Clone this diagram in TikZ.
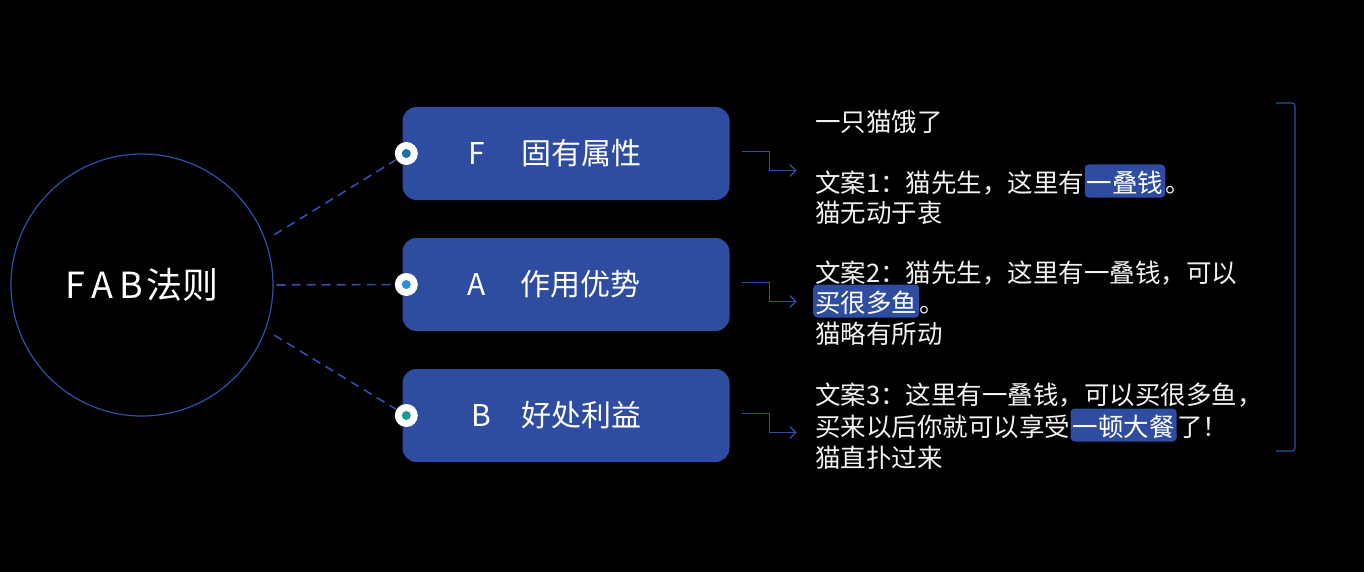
\documentclass[tikz,border=0pt]{standalone}
\usepackage{fontspec}
\setmainfont{Noto Sans CJK SC}
\usetikzlibrary{arrows.meta}
\definecolor{boxblue}{HTML}{2E4CA0}
\definecolor{lineblue}{HTML}{2F4FA8}
\definecolor{dotF}{HTML}{1F6FA8}
\definecolor{dotA}{HTML}{2A90D4}
\definecolor{dotB}{HTML}{1A9C96}
\definecolor{txtw}{HTML}{F2F2F2}
\begin{document}
\begin{tikzpicture}[x=1pt,y=-1pt,
  fbox/.style={rounded corners=14pt,fill=boxblue,minimum width=327pt,minimum height=93pt,inner sep=0pt},
  dot/.style={circle,fill=white,minimum size=23pt,inner sep=0pt},
  innerdot/.style={circle,minimum size=9pt,inner sep=0pt},
  boxtxt/.style={text=white,font=\fontsize{30}{34}\selectfont,inner sep=0pt},
  dashline/.style={draw=lineblue,line width=1.6pt,dash pattern=on 9pt off 6pt},
  elbow/.style={draw=lineblue,line width=1.3pt,-{Straight Barb[length=6pt,width=12pt]}},
  txt/.style={text=txtw,font=\fontsize{25.5}{30}\selectfont,inner sep=0pt,anchor=base west},
  hl/.style={txt,fill=boxblue,rounded corners=4pt,inner xsep=2pt,inner ysep=4pt,text height=24pt,text depth=1pt,text=white}
]
\useasboundingbox (0,0) rectangle (1364,572);
\fill[black] (0,0) rectangle (1364,572);

% central circle
\node[circle,draw=lineblue,line width=1.2pt,minimum size=262pt,inner sep=0pt,text=white,
      font=\fontsize{36}{40}\selectfont] (fab) at (142,285) {F\kern6pt A\kern6pt B\kern3pt 法则};

% boxes
\node[fbox] (fb) at (566,153.5) {};
\node[fbox] (ab) at (566,284.5) {};
\node[fbox] (bb) at (566,415.5) {};

\node[boxtxt] (fl) at ([xshift=-89]fb.center) {F};
\node[boxtxt] (ft) at ([xshift=15]fb.center) {固有属性};
\node[boxtxt] (al) at ([xshift=-89]ab.center) {A};
\node[boxtxt] (at) at ([xshift=14]ab.center) {作用优势};
\node[boxtxt] (bl) at ([xshift=-85]bb.center) {B};
\node[boxtxt] (bt) at ([xshift=15]bb.center) {好处利益};

% dots
\node[dot] (dF) at ([xshift=4]fb.west) {};
\node[innerdot,fill=dotF] (dFi) at (dF) {};
\node[dot] (dA) at ([xshift=4]ab.west) {};
\node[innerdot,fill=dotA] (dAi) at (dA) {};
\node[dot] (dB) at ([xshift=4]bb.west) {};
\node[innerdot,fill=dotB] (dBi) at (dB) {};

% dashed connectors
\draw[dashline,shorten <=10pt,shorten >=12pt] (fab.20) -- (dF.center);
\draw[dashline,shorten <=3pt,shorten >=12pt] (fab.east) -- (dA.center);
\draw[dashline,shorten <=10pt,shorten >=12pt] (fab.-20) -- (dB.center);

% elbow arrows
\draw[elbow] ([shift={(12,-2)}]fb.east) -- ++(28,0) -- ++(0,19) -- ++(27,0);
\draw[elbow] ([shift={(12,-2)}]ab.east) -- ++(28,0) -- ++(0,19) -- ++(27,0);
\draw[elbow] ([shift={(12,-2)}]bb.east) -- ++(28,0) -- ++(0,19) -- ++(27,0);

% right text
\node[txt] (t1) at (815,131.5) {一只猫饿了};
\node[txt] (t2a) at (815,192.5) {文案1：猫先生，这里有};
\node[hl] (t2b) at (t2a.base east) {一叠钱};
\node[txt] (t2c) at (t2b.base east) {。};
\node[txt] (t3) at (815,222.5) {猫无动于衷};
\node[txt] (t4) at (815,282.5) {文案2：猫先生，这里有一叠钱，可以};
\node[hl] (t5a) at (813,312.5) {买很多鱼};
\node[txt] (t5b) at (t5a.base east) {。};
\node[txt] (t6) at (815,343.5) {猫略有所动};
\node[txt] (t7) at (815,404.5) {文案3：这里有一叠钱，可以买很多鱼，};
\node[txt] (t8a) at (815,436.5) {买来以后你就可以享受};
\node[hl] (t8b) at (t8a.base east) {一顿大餐};
\node[txt] (t8c) at (t8b.base east) {了！};
\node[txt] (t9) at (815,467.5) {猫直扑过来};

% bracket
\draw[lineblue,line width=1.2pt,rounded corners=3pt] (1276,103) -- (1295,103) -- (1295,451) -- (1276,451);
\end{tikzpicture}
\end{document}
